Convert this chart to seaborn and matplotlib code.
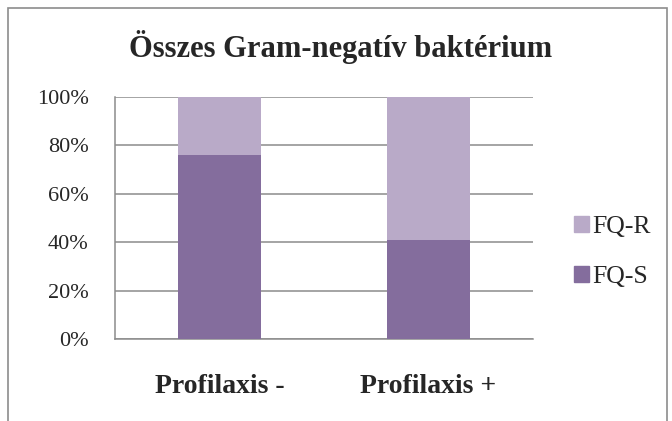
import seaborn as sns
import matplotlib.pyplot as plt
import pandas as pd
from matplotlib.patches import Patch, Rectangle

# data (percent)
categories = ['Profilaxis -', 'Profilaxis +']
fq_s = [76, 41]
fq_r = [24, 59]
series_names = ['FQ-R', 'FQ-S']

col_s = '#846d9d'
col_r = '#b9aac8'
grid_col = '#8c8c8c'

df = pd.DataFrame({'cat': categories, 'FQ-S': fq_s, 'FQ-R': fq_r})
df['total'] = df['FQ-S'] + df['FQ-R']

sns.set_style('white')
plt.rcParams['font.family'] = ['Liberation Serif', 'DejaVu Serif']

fig = plt.figure(figsize=(6.72, 4.21), dpi=100)
ax = fig.add_axes([115/672, 1 - 339/421, (533-115)/672, (339-97)/421])

# stacked: full height in light colour, then the FQ-S part on top of it
sns.barplot(data=df, x='cat', y='total', color=col_r, width=0.40,
            saturation=1, linewidth=0, ax=ax, zorder=3)
sns.barplot(data=df, x='cat', y='FQ-S', color=col_s, width=0.40,
            saturation=1, linewidth=0, ax=ax, zorder=3)

ax.set_ylim(0, 100)
ax.set_xlim(-0.5, 1.5)
ax.set_yticks(range(0, 101, 20))
ax.set_yticklabels([f'{v}%' for v in range(0, 101, 20)], fontsize=16)
ax.yaxis.grid(True, color=grid_col, linewidth=1.1, zorder=0)
ax.set_axisbelow(True)
ax.set_xlabel('')
ax.set_ylabel('')

# category boundaries as tick marks, labels centred on bars
ax.set_xticks([-0.5, 0.5, 1.5])
ax.set_xticklabels([])
ax.set_xticks([0, 1], minor=True)
ax.set_xticklabels(categories, minor=True, fontsize=20, fontweight='bold')
ax.tick_params(axis='x', which='major', length=7, width=1, color=grid_col, direction='out')
ax.tick_params(axis='x', which='minor', length=0, pad=25)
ax.tick_params(axis='y', length=7, width=1, color=grid_col, direction='out', pad=12)

for s in ['top', 'right']:
    ax.spines[s].set_visible(False)
for s in ['left', 'bottom']:
    ax.spines[s].set_color(grid_col)
    ax.spines[s].set_linewidth(1.1)

fig.text(341/672, 1 - 47/421, 'Összes Gram-negatív baktérium', ha='center', va='center',
         fontsize=22, fontweight='bold')

handles = [Patch(color=col_r), Patch(color=col_s)]
fig.legend(handles, series_names, loc='center left', bbox_to_anchor=(574/672, 1 - 252/421),
           frameon=False, fontsize=18.5, handlelength=0.6, handleheight=0.6,
           handletextpad=0.1, labelspacing=1.1, borderaxespad=0, borderpad=0)

# outer chart border
fig.patches.append(Rectangle((8/672, -0.05), (667-8)/672, 1 - 8/421 + 0.05,
                             transform=fig.transFigure, fill=False,
                             edgecolor='#8c8c8c', linewidth=1.2))

fig.savefig('out.png', dpi=100)
